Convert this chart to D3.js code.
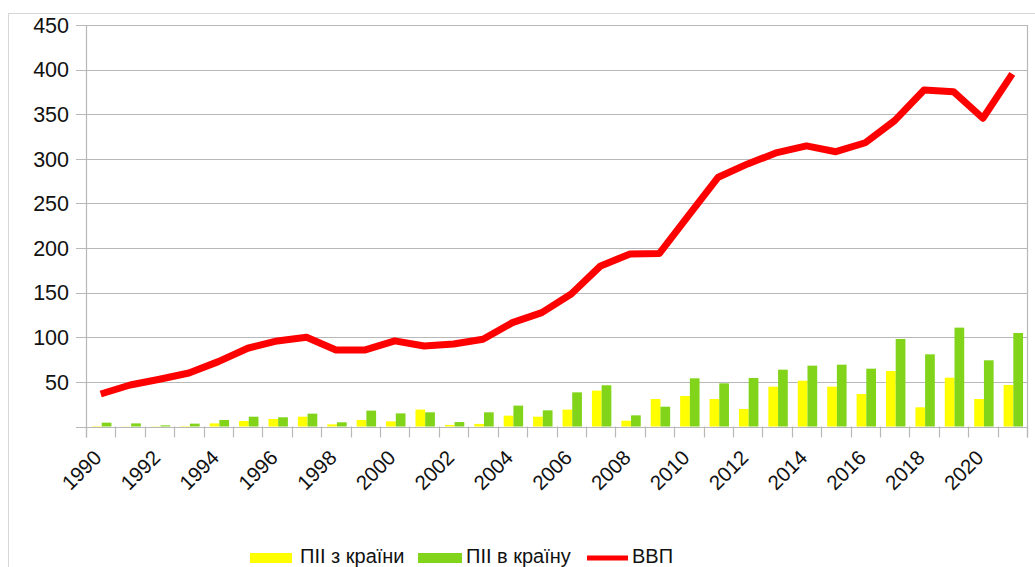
<!DOCTYPE html>
<html>
<head>
<meta charset="utf-8">
<script src="https://cdn.jsdelivr.net/npm/d3@7"></script>
<style>
  html, body { margin: 0; padding: 0; background: #fff; }
  svg { display: block; font-family: "Liberation Sans", Arial, sans-serif; }
</style>
</head>
<body>
<svg id="chart" width="1035" height="567"></svg>
<script>
const years = d3.range(1990, 2022);
const gdp = [36.4, 46.5, 53, 60, 72.7, 87.7, 95.9, 100, 85.8, 85.8, 96, 90.2, 92.5, 97.7, 116.4, 127.6, 148.5, 180, 193.4, 194, 237, 279.4, 294.3, 307, 314.5, 308, 318, 342.8, 377.2, 375.3, 345.5, 395.2];
const fdiOut = [0.5, 0.2, 0.3, 0.5, 3.5, 6.2, 8.4, 11, 2.4, 7.3, 5.8, 19, 1.7, 2.9, 12.1, 11, 18.9, 40.2, 6.5, 30.8, 34.2, 30.8, 19.6, 44.6, 51.3, 44.6, 36.4, 62.2, 21.5, 54.7, 30.8, 46.5];
const fdiIn = [4.3, 3.5, 1.3, 3.2, 7.3, 11, 10.3, 14.4, 4.7, 17.8, 14.7, 15.9, 5, 15.9, 23.4, 18.1, 38.3, 46.2, 12.5, 22.2, 54, 48.4, 54.4, 63.7, 68.2, 69.3, 64.8, 98.1, 80.9, 110.8, 74.2, 104.8];
const yTicks = [0, 50, 100, 150, 200, 250, 300, 350, 400, 450];
const yTickLabels = ["", "50", "100", "150", "200", "250", "300", "350", "400", "450"];
const xLabelYears = d3.range(1990, 2021, 2);
const seriesNames = ["ПІІ з країни", "ПІІ в країну", "ВВП"];

const colors = { out: "#ffff00", in: "#81d41a", gdp: "#ff0000" };
const svg = d3.select("#chart");

const pLeft = 86, pRight = 1027, pTop = 25, pBottom = 426.5;
const x = d3.scaleBand().domain(years).range([pLeft, pRight]).padding(0);
const y = d3.scaleLinear().domain([0, 450]).range([pBottom, pTop]);
const bw = x.bandwidth();

// outer frame
svg.append("rect").attr("x", 8.5).attr("y", 13.5).attr("width", 1100).attr("height", 600)
  .attr("fill", "none").attr("stroke", "#d6d6d6").attr("stroke-width", 1);

// gridlines + y ticks
svg.append("g").selectAll("line").data(yTicks).join("line")
  .attr("x1", pLeft - 10).attr("x2", pRight)
  .attr("y1", d => Math.round(y(d)) + 0.5).attr("y2", d => Math.round(y(d)) + 0.5)
  .attr("stroke", "#b8b8b8").attr("stroke-width", 1.2);

// y labels
svg.append("g").selectAll("text").data(yTicks).join("text")
  .attr("x", 69).attr("y", d => y(d)).attr("dy", "0.36em")
  .attr("text-anchor", "end").attr("font-size", 21.5).attr("fill", "#111")
  .text((d, i) => yTickLabels[i]);

// vertical axis lines
svg.append("line").attr("x1", pLeft + 0.5).attr("x2", pLeft + 0.5).attr("y1", pTop).attr("y2", pBottom + 11)
  .attr("stroke", "#b8b8b8").attr("stroke-width", 1.2);
svg.append("line").attr("x1", pRight + 0.5).attr("x2", pRight + 0.5).attr("y1", pTop).attr("y2", pBottom + 11)
  .attr("stroke", "#b8b8b8").attr("stroke-width", 1.2);

// x ticks at band boundaries
const boundaries = years.map(d => x(d)).concat([pRight]);
svg.append("g").selectAll("line").data(boundaries).join("line")
  .attr("x1", d => Math.round(d) + 0.5).attr("x2", d => Math.round(d) + 0.5)
  .attr("y1", pBottom).attr("y2", pBottom + 11)
  .attr("stroke", "#b8b8b8").attr("stroke-width", 1.2);

// bars
svg.append("g").selectAll("rect").data(years).join("rect")
  .attr("x", d => x(d) + bw * 0.205).attr("width", bw * 0.33)
  .attr("y", (d, i) => y(fdiOut[i])).attr("height", (d, i) => pBottom - y(fdiOut[i]))
  .attr("fill", colors.out);
svg.append("g").selectAll("rect").data(years).join("rect")
  .attr("x", d => x(d) + bw * 0.535).attr("width", bw * 0.33)
  .attr("y", (d, i) => y(fdiIn[i])).attr("height", (d, i) => pBottom - y(fdiIn[i]))
  .attr("fill", colors.in);

// GDP line
const line = d3.line().x((d, i) => x(years[i]) + bw / 2).y(d => y(d));
svg.append("path").datum(gdp).attr("d", line)
  .attr("fill", "none").attr("stroke", colors.gdp).attr("stroke-width", 7)
  .attr("stroke-linejoin", "round");

// x labels
svg.append("g").selectAll("text").data(xLabelYears).join("text")
  .attr("transform", d => `translate(${x(d) + bw / 2 + 2},459) rotate(-45)`)
  .attr("text-anchor", "end").attr("font-size", 20.5).attr("fill", "#111")
  .text(d => d);

// legend
const lg = svg.append("g");
lg.append("rect").attr("x", 250).attr("y", 553).attr("width", 42).attr("height", 10).attr("fill", colors.out);
lg.append("text").attr("x", 300).attr("y", 563).attr("font-size", 20).attr("fill", "#111").text(seriesNames[0]);
lg.append("rect").attr("x", 418).attr("y", 553).attr("width", 44).attr("height", 10).attr("fill", colors.in);
lg.append("text").attr("x", 466).attr("y", 563).attr("font-size", 20).attr("fill", "#111").text(seriesNames[1]);
lg.append("line").attr("x1", 587).attr("x2", 628).attr("y1", 558).attr("y2", 558).attr("stroke", colors.gdp).attr("stroke-width", 5);
lg.append("text").attr("x", 632).attr("y", 563).attr("font-size", 20).attr("fill", "#111").text(seriesNames[2]);
</script>
</body>
</html>
